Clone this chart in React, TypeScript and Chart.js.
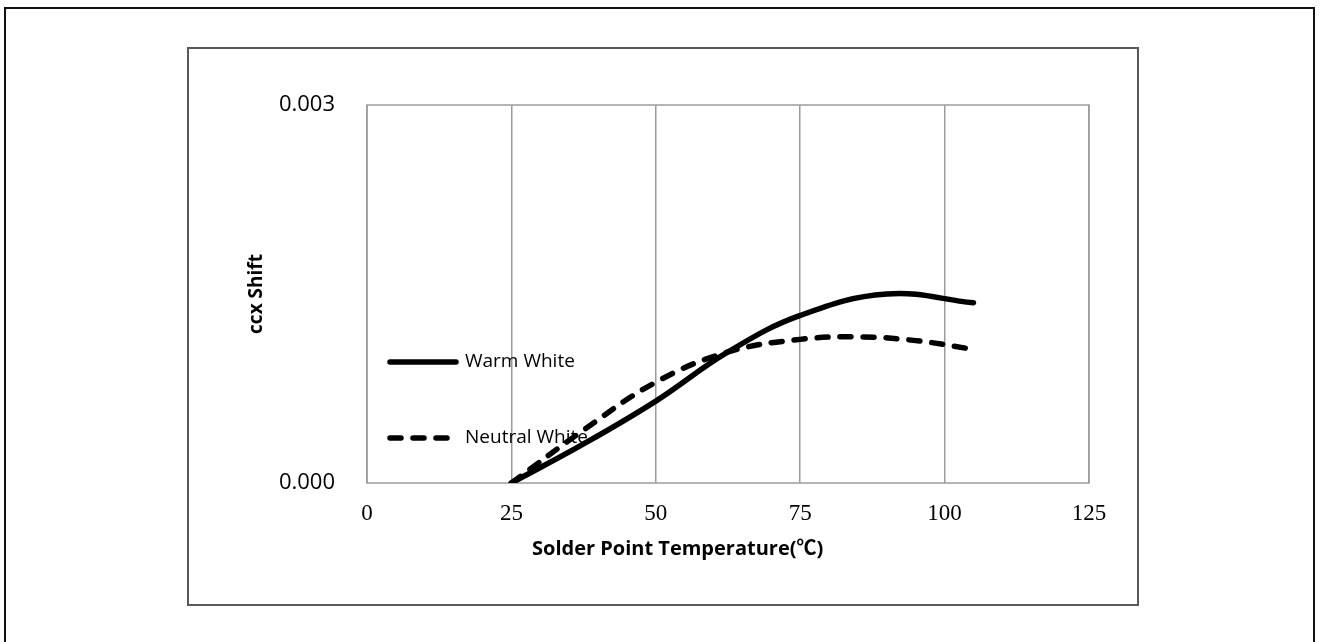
import React, { useEffect, useRef } from "react";
import { Chart, registerables } from "chart.js";

Chart.register(...registerables);

const warmX = [25, 37.5, 50, 62.5, 75, 90, 105];
const warmY = [0, 0.00031, 0.00065, 0.00104, 0.00133, 0.0015, 0.00143];
const neutralX = [25, 37.5, 50, 62.5, 75, 85, 95, 105];
const neutralY = [0, 0.00042, 0.0008, 0.00104, 0.00114, 0.00116, 0.00113, 0.00106];
const xTicks = [0, 25, 50, 75, 100, 125];
const yTicks = [0, 0.003];
const seriesNames = ["Warm White", "Neutral White"];
const xTitle = "Solder Point Temperature(℃)";
const yTitle = "ccx Shift";

const SANS = "'Open Sans', 'Noto Sans CJK SC', sans-serif";
const SERIF = "'Liberation Serif', 'DejaVu Serif', serif";

const frame = {
  id: "frame",
  beforeDatasetsDraw(chart: any) {
    const { ctx, chartArea: a } = chart;
    ctx.save();
    ctx.strokeStyle = "#9c9c9c";
    ctx.lineWidth = 1.5;
    ctx.strokeRect(a.left, a.top, a.right - a.left, a.bottom - a.top);
    const items = [
      { y: 362, dash: [] as number[] },
      { y: 438, dash: [11, 12] },
    ];
    items.forEach((it, i) => {
      ctx.beginPath();
      ctx.setLineDash(it.dash);
      ctx.lineCap = "round";
      ctx.lineWidth = 5.5;
      ctx.strokeStyle = "#000";
      ctx.moveTo(390, it.y);
      ctx.lineTo(i === 0 ? 456 : 450, it.y);
      ctx.stroke();
      ctx.setLineDash([]);
      ctx.fillStyle = "#000";
      ctx.font = `19px ${SANS}`;
      ctx.textBaseline = "middle";
      ctx.textAlign = "left";
      ctx.fillText(seriesNames[i], 465, it.y);
    });
    ctx.restore();
  },
  afterDraw(chart: any) {
    const { ctx, chartArea: a } = chart;
    ctx.save();
    ctx.fillStyle = "#000";
    ctx.font = `bold 20px ${SANS}`;
    ctx.textBaseline = "middle";
    ctx.textAlign = "left";
    ctx.fillText(xTitle, 532, 549);
    ctx.font = `bold 19px ${SANS}`;
    ctx.textAlign = "center";
    ctx.translate(257, (a.top + a.bottom) / 2);
    ctx.rotate(-Math.PI / 2);
    ctx.fillText(yTitle, 0, 0);
    ctx.restore();
  },
};

export default function App() {
  const ref = useRef<HTMLCanvasElement>(null);
  useEffect(() => {
    const chart = new Chart(ref.current!, {
      type: "line",
      data: {
        datasets: [
          {
            label: seriesNames[0],
            data: warmX.map((x, i) => ({ x, y: warmY[i] })),
            borderColor: "#000",
            borderWidth: 5.5,
            pointRadius: 0,
            tension: 0.4,
            borderCapStyle: "round",
            fill: false,
          },
          {
            label: seriesNames[1],
            data: neutralX.map((x, i) => ({ x, y: neutralY[i] })),
            borderColor: "#000",
            borderWidth: 5.5,
            pointRadius: 0,
            tension: 0.4,
            borderDash: [11, 12],
            borderCapStyle: "round",
            fill: false,
          },
        ],
      },
      plugins: [frame],
      options: {
        animation: false,
        responsive: false,
        layout: { padding: { left: 0, top: 105, right: 233, bottom: 99 } },
        plugins: { legend: { display: false }, tooltip: { enabled: false } },
        scales: {
          x: {
            type: "linear",
            min: 0,
            max: 125,
            afterBuildTicks: (s: any) => {
              s.ticks = xTicks.map((v) => ({ value: v }));
            },
            afterFit: (s: any) => {
              s.height = 60;
            },
            grid: { color: "#9c9c9c", lineWidth: 1.5, drawTicks: false },
            border: { display: false },
            ticks: {
              padding: 17,
              color: "#000",
              font: { family: SERIF, size: 23 },
              maxRotation: 0,
            },
          },
          y: {
            type: "linear",
            min: 0,
            max: 0.003,
            afterBuildTicks: (s: any) => {
              s.ticks = yTicks.map((v) => ({ value: v }));
            },
            afterFit: (s: any) => {
              s.width = 367;
            },
            grid: { display: false, drawTicks: false },
            border: { display: false },
            ticks: {
              padding: 32,
              color: "#000",
              font: { family: SANS, size: 22 },
              callback: (v: any) => Number(v).toFixed(3),
            },
          },
        },
      },
    });
    return () => chart.destroy();
  }, []);
  return (
    <>
      <div
        style={{
          position: "fixed",
          left: 4,
          top: 7,
          width: 1311,
          height: 640,
          border: "2px solid #111",
          borderBottom: "none",
          boxSizing: "border-box",
        }}
      />
      <div
        style={{
          position: "fixed",
          left: 187,
          top: 47,
          width: 952,
          height: 559,
          border: "2px solid #595959",
          boxSizing: "border-box",
        }}
      />
      <canvas
        ref={ref}
        width={1322}
        height={642}
        style={{ position: "fixed", left: 0, top: 0, width: 1322, height: 642 }}
      />
    </>
  );
}
